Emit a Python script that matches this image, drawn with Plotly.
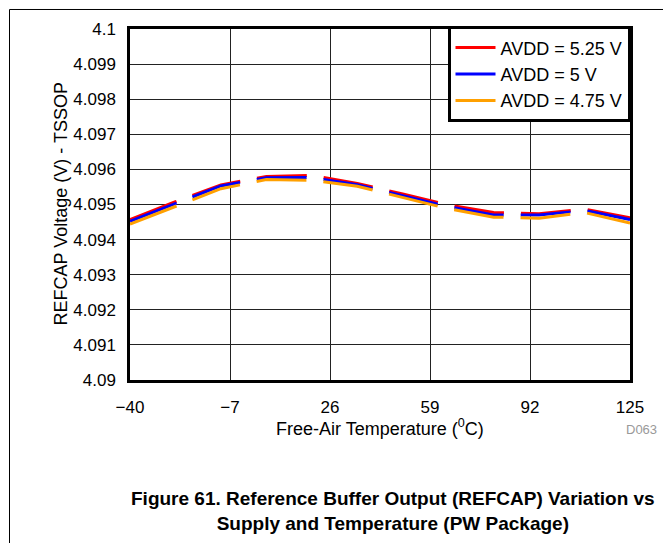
import plotly.graph_objects as go

temps = [-40, -25, -10, 5, 20, 35, 50, 65, 80, 95, 110, 125]

avdd_525 = [4.09457, 4.09508, 4.09556, 4.09580, 4.09583, 4.09560,
            4.09530, 4.09499, 4.09477, 4.09474, 4.09487, 4.09462]
avdd_500 = [4.09452, 4.09503, 4.09553, 4.09576, 4.09577, 4.09556,
            4.09526, 4.09494, 4.09470, 4.09470, 4.09483, 4.09457]
avdd_475 = [4.09444, 4.09494, 4.09545, 4.09571, 4.09569, 4.09552,
            4.09519, 4.09488, 4.09464, 4.09461, 4.09477, 4.09447]

series_names = ['AVDD = 5.25 V', 'AVDD = 5 V', 'AVDD = 4.75 V']
series_colors = ['#FF0000', '#0000FF', '#FFA000']

x_ticks = [-40, -7, 26, 59, 92, 125]
y_ticks = [4.09, 4.091, 4.092, 4.093, 4.094, 4.095, 4.096, 4.097, 4.098, 4.099, 4.1]
y_labels = ['4.09', '4.091', '4.092', '4.093', '4.094', '4.095',
            '4.096', '4.097', '4.098', '4.099', '4.1']

font = 'Liberation Sans, Arial, sans-serif'

fig = go.Figure()
for name, vals, color in zip(series_names, [avdd_525, avdd_500, avdd_475], series_colors):
    fig.add_trace(go.Scatter(
        x=temps, y=vals, mode='lines', name=name,
        line=dict(color=color, width=3, dash='50px,17px'),
    ))

axis_common = dict(
    showline=True, mirror=True, linecolor='black', linewidth=2.5,
    showgrid=True, gridcolor='#222222', gridwidth=1,
    zeroline=False, ticks='', tickfont=dict(family=font, size=17, color='black'),
)

fig.update_layout(
    width=671, height=543,
    margin=dict(l=122, r=49, t=21, b=171),
    paper_bgcolor='white', plot_bgcolor='white',
    font=dict(family=font, color='black'),
    xaxis=dict(range=[-40, 125], tickvals=x_ticks, ticklabelstandoff=10, **axis_common),
    yaxis=dict(range=[4.09, 4.1], tickvals=y_ticks, ticktext=y_labels,
               ticklabelstandoff=8, **axis_common),
    legend=dict(
        x=1, y=1.006, xanchor='right', yanchor='top',
        bgcolor='white', bordercolor='black', borderwidth=2.5,
        font=dict(family=font, size=18), itemwidth=40,
        tracegroupgap=0,
    ),
    showlegend=True,
)

# axis titles
fig.add_annotation(
    text='Free-Air Temperature (<sup>0</sup>C)', xref='paper', yref='paper',
    x=0.5, y=-0.134, xanchor='center', yanchor='middle', showarrow=False,
    font=dict(family=font, size=18, color='black'),
)
fig.add_annotation(
    text='REFCAP Voltage (V) - TSSOP', xref='paper', yref='paper',
    x=-0.14, y=0.5, xanchor='center', yanchor='middle', textangle=-90,
    showarrow=False, font=dict(family=font, size=18, color='black'),
)

fig.add_annotation(
    text='D063', xref='paper', yref='paper', x=1.058, y=-0.142,
    xanchor='right', yanchor='middle', showarrow=False,
    font=dict(family=font, size=13, color='#999999'),
)
fig.add_annotation(
    text='<b>Figure 61. Reference Buffer Output (REFCAP) Variation vs<br>'
         'Supply and Temperature (PW Package)</b>',
    xref='paper', yref='paper', x=0.526, y=-0.372,
    xanchor='center', yanchor='middle', showarrow=False, align='center',
    font=dict(family=font, size=19, color='black'),
)

# outer frame: left and top edges
fig.add_shape(type='line', xref='paper', yref='paper',
              x0=-0.241, x1=-0.241, y0=1.0556, y1=-0.49,
              line=dict(color='black', width=1))
fig.add_shape(type='line', xref='paper', yref='paper',
              x0=-0.241, x1=1.098, y0=1.0556, y1=1.0556,
              line=dict(color='black', width=1))

fig.write_html('out.html')
